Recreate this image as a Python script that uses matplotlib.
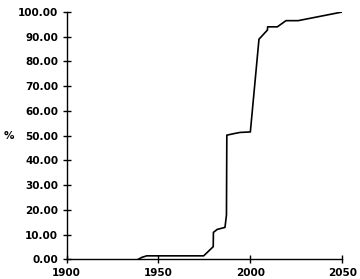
import matplotlib.pyplot as plt

# === Data ===
years = [1939, 1941, 1943.6, 1974.6, 1979.8, 1979.9, 1982, 1986.2, 1987, 1987.2,
         1991.6, 1994.4, 2000, 2004.7, 2009.3, 2009.4, 2014.7, 2019.4, 2026, 2050]
values = [0, 0.8, 1.4, 1.4, 5.1, 10.9, 12.1, 12.9, 17.9, 50.2,
          50.9, 51.3, 51.5, 89.0, 92.7, 94.0, 94.0, 96.5, 96.5, 100]

x_ticks = [1900, 1950, 2000, 2050]
y_ticks = [0, 10, 20, 30, 40, 50, 60, 70, 80, 90, 100]

fig = plt.figure(figsize=(3.6, 2.79), dpi=100)
ax = fig.add_axes([0.185, 0.0706, 0.7656, 0.8864])

ax.plot(years, values, color='black', linewidth=1.2)

ax.set_xlim(1900, 2050)
ax.set_ylim(0, 100)
ax.set_xticks(x_ticks)
ax.set_yticks(y_ticks)
ax.set_yticklabels([f"{v:.2f}" for v in y_ticks])

for side in ['top', 'right']:
    ax.spines[side].set_visible(False)
for side in ['left', 'bottom']:
    ax.spines[side].set_linewidth(1.0)

ax.tick_params(direction='inout', length=6, width=1.0, labelsize=7.5, pad=3)
for lbl in ax.get_xticklabels() + ax.get_yticklabels():
    lbl.set_fontweight('bold')

ax.set_ylabel("%", rotation=0, fontsize=7.5, fontweight='bold', va='center')
ax.yaxis.set_label_coords(-0.21, 0.5)

fig.savefig("out.png", dpi=100)
